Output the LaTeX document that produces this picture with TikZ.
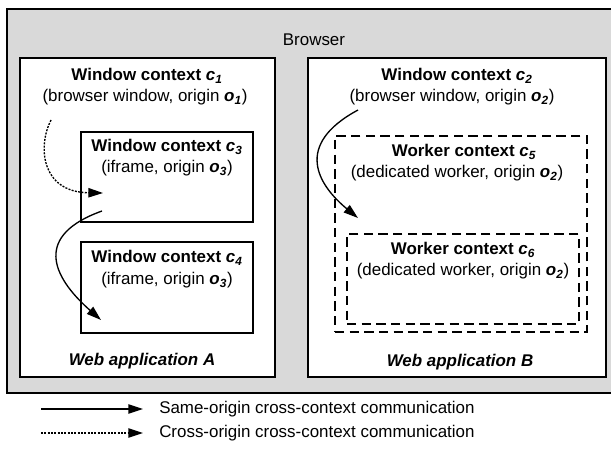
\documentclass[tikz,border=0pt]{standalone}
\usepackage{fontspec}
\setmainfont{Liberation Sans}
\usetikzlibrary{arrows.meta,fit}
\definecolor{browsergray}{RGB}{217,217,217}
\newcommand{\ctxid}[2]{\textbf{\textit{#1\textsubscript{#2}}}}

\begin{document}
\begin{tikzpicture}[x=0.75pt, y=-0.75pt,
    every node/.style = {font=\fontsize{12.7}{15}\selectfont, inner sep=0pt},
    browserbox/.style = {draw, fill=browsergray, line width=1.2pt, fit={#1}},
    appbox/.style     = {draw, fill=white, line width=1.3pt, fit={#1}},
    workerbox/.style  = {draw, line width=1.1pt,
      dash pattern=on 7pt off 4pt, fit={#1}},
    ctxtitle/.style   = {font=\fontsize{12.7}{15}\selectfont\bfseries},
    apptitle/.style   = {font=\fontsize{12.7}{15}\selectfont\bfseries\itshape},
    samemsg/.style    = {line width=1pt, -{Triangle[length=11pt,width=7pt]}},
    crossmsg/.style   = {samemsg, dash pattern=on 1.5pt off 1pt},
  ]
  \useasboundingbox (0,0) rectangle (611,460);

  % boxes
  \node[browserbox={(7,9) (614,393)}] (browser) {};
  \node (browserlabel) at (314,40) {Browser};
  \node[appbox={(20,58) (275,377)}] (appA) {};
  \node[appbox={(308,58) (606,377)}] (appB) {};
  \node[appbox={(81,132) (253,222)}] (c3) {};
  \node[appbox={(81,242) (253,333)}] (c4) {};
  \node[workerbox={(335,136) (587,332)}] (c5) {};
  \node[workerbox={(347,234) (579,324)}] (c6) {};

  % texts
  \node[ctxtitle] (c1title) at (147,76) {Window context \ctxid{c}{1}};
  \node (c1sub) at (145,97) {(browser window, origin \ctxid{o}{1})};
  \node[ctxtitle] (c3title) at (167,147) {Window context \ctxid{c}{3}};
  \node (c3sub) at (167,168) {(iframe, origin \ctxid{o}{3})};
  \node[ctxtitle] (c4title) at (167,258) {Window context \ctxid{c}{4}};
  \node (c4sub) at (167,280) {(iframe, origin \ctxid{o}{3})};
  \node[apptitle] (appAlabel) at (142,361) {Web application A};

  \node[ctxtitle] (c2title) at (457,76) {Window context \ctxid{c}{2}};
  \node (c2sub) at (452,97) {(browser window, origin \ctxid{o}{2})};
  \node[ctxtitle] (c5title) at (464,152) {Worker context \ctxid{c}{5}};
  \node (c5sub) at (457,173) {(dedicated worker, origin \ctxid{o}{2})};
  \node[ctxtitle] (c6title) at (463,250) {Worker context \ctxid{c}{6}};
  \node (c6sub) at (463,271) {(dedicated worker, origin \ctxid{o}{2})};
  \node[apptitle] (appBlabel) at (460,362) {Web application B};

  % messages
  \coordinate (c1out) at (51,120);
  \coordinate (c3in) at (103,193);
  \coordinate (c3out) at (102,211);
  \coordinate (c4in) at (101,320);
  \coordinate (c2out) at (358,110);
  \coordinate (c5in) at (358,218);
  \draw[crossmsg] (c1out) .. controls (38,145) and (40,192) .. (c3in);
  \draw[samemsg] (c3out) .. controls (35,235) and (50,275) .. (c4in);
  \draw[samemsg] (c2out) .. controls (293,145) and (318,185) .. (c5in);

  % legend
  \coordinate (samefrom) at (41,409);
  \coordinate (sameto) at (143,409);
  \coordinate (crossfrom) at (41,433);
  \coordinate (crossto) at (143,433);
  \draw[samemsg] (samefrom) -- (sameto);
  \draw[crossmsg] (crossfrom) -- (crossto);
  \node[anchor=west] (samelabel) at (159,409) {Same-origin cross-context communication};
  \node[anchor=west] (crosslabel) at (159,433) {Cross-origin cross-context communication};
\end{tikzpicture}
\end{document}
